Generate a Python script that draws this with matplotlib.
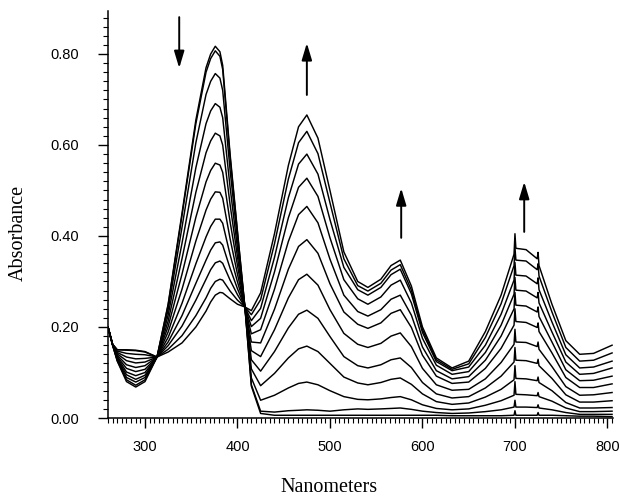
import numpy as np
import matplotlib
matplotlib.use("Agg")
import matplotlib.pyplot as plt
from matplotlib.ticker import MultipleLocator

wavelength = [260, 265, 270, 280, 290, 300, 313, 325, 340, 355, 366, 371, 376, 381, 384, 392, 400, 408,
              415, 425, 440, 455, 466, 475, 487, 500, 515, 530, 541, 555, 566, 576, 588, 600,
              615, 632, 650, 668, 685, 699, 700, 701, 712, 724, 725, 726, 740, 755, 770, 785, 805]

# absorbance of each scan (first = start of titration, last = end)
scan_01 = [.200, .162, .150, .150, .149, .146, .134, .250, .450, .655, .770, .800, .817, .805, .775, .580, .410, .244,
           .070, .010, .006, .006, .006, .006, .006, .006, .006, .006, .006, .006, .006, .006, .006, .006,
           .006, .005, .005, .005, .005, .006, .016, .006, .006, .006, .012, .006, .006, .005, .004, .004, .003]
scan_02 = [.200, .162, .150, .149, .148, .145, .134, .248, .445, .647, .760, .790, .807, .795, .766, .574, .407, .244,
           .073, .015, .013, .016, .017, .018, .017, .015, .018, .020, .019, .020, .021, .022, .019, .015,
           .012, .010, .011, .014, .018, .024, .039, .024, .024, .023, .029, .022, .018, .012, .008, .008, .008]
scan_03 = [.200, .162, .147, .142, .140, .139, .134, .238, .419, .605, .711, .740, .757, .747, .720, .545, .392, .244,
           .088, .039, .050, .066, .076, .079, .073, .060, .047, .041, .040, .042, .045, .047, .040, .029,
           .021, .018, .020, .028, .038, .050, .080, .052, .051, .049, .056, .047, .037, .022, .014, .014, .015]
scan_04 = [.200, .161, .144, .134, .130, .131, .134, .226, .384, .550, .647, .675, .691, .683, .660, .507, .373, .244,
           .108, .071, .098, .132, .152, .158, .146, .120, .090, .077, .073, .078, .085, .088, .074, .053,
           .036, .030, .033, .046, .063, .084, .115, .087, .086, .082, .090, .078, .060, .034, .022, .022, .023]
scan_05 = [.200, .161, .141, .126, .121, .123, .134, .213, .350, .496, .583, .609, .626, .620, .600, .469, .354, .244,
           .128, .103, .146, .198, .228, .237, .219, .179, .135, .115, .110, .117, .128, .132, .111, .078,
           .053, .044, .047, .066, .092, .123, .155, .127, .126, .120, .129, .115, .087, .051, .035, .035, .038]
scan_06 = [.200, .161, .138, .117, .111, .115, .134, .201, .316, .441, .519, .544, .560, .556, .540, .431, .335, .244,
           .148, .135, .194, .264, .304, .316, .292, .238, .186, .162, .155, .164, .180, .187, .157, .109,
           .073, .061, .063, .086, .122, .162, .195, .167, .166, .157, .167, .151, .113, .069, .050, .051, .056]
scan_07 = [.200, .161, .135, .109, .102, .107, .134, .189, .283, .389, .457, .481, .497, .496, .483, .394, .316, .244,
           .167, .165, .239, .327, .377, .392, .362, .295, .233, .206, .197, .209, .230, .238, .199, .138,
           .092, .076, .079, .109, .153, .204, .240, .212, .210, .199, .209, .190, .143, .089, .067, .067, .075]
scan_08 = [.200, .161, .133, .101, .093, .100, .134, .177, .252, .339, .398, .421, .437, .437, .428, .359, .299, .244,
           .185, .194, .283, .388, .447, .465, .429, .349, .270, .234, .224, .238, .261, .270, .226, .156,
           .104, .086, .091, .127, .180, .240, .276, .248, .246, .233, .244, .223, .167, .106, .082, .083, .092]
scan_09 = [.200, .160, .130, .095, .085, .094, .134, .167, .225, .296, .347, .369, .385, .387, .380, .329, .284, .244,
           .201, .219, .321, .440, .507, .527, .487, .396, .304, .262, .250, .266, .292, .303, .253, .175,
           .116, .096, .102, .144, .204, .272, .309, .281, .279, .264, .276, .253, .189, .123, .096, .098, .110]
scan_10 = [.200, .160, .128, .089, .079, .089, .134, .159, .202, .259, .305, .326, .341, .345, .340, .303, .271, .244,
           .214, .241, .353, .484, .558, .580, .536, .436, .331, .282, .270, .287, .315, .327, .273, .188,
           .124, .104, .112, .160, .228, .303, .342, .314, .312, .295, .308, .282, .211, .139, .110, .112, .125]
scan_11 = [.200, .160, .126, .084, .072, .084, .134, .151, .181, .225, .264, .285, .300, .305, .303, .279, .259, .244,
           .227, .260, .383, .525, .605, .630, .581, .473, .350, .291, .279, .296, .325, .337, .281, .194,
           .128, .107, .119, .177, .251, .335, .375, .347, .345, .326, .339, .312, .233, .155, .125, .127, .143]
scan_12 = [.200, .160, .125, .080, .068, .080, .134, .145, .165, .200, .235, .255, .270, .276, .275, .262, .250, .244,
           .236, .275, .405, .555, .640, .666, .615, .500, .365, .300, .287, .305, .335, .347, .290, .200,
           .132, .110, .125, .190, .270, .360, .405, .373, .370, .350, .364, .335, .250, .170, .140, .142, .160]

scans = [scan_01, scan_02, scan_03, scan_04, scan_05, scan_06,
         scan_07, scan_08, scan_09, scan_10, scan_11, scan_12]

# arrows showing the direction of change
arrow_nm = [337, 475, 577, 710]
arrow_from = [0.881, 0.710, 0.396, 0.409]
arrow_to = [0.769, 0.824, 0.505, 0.519]

fig = plt.figure(figsize=(6.2, 4.97), dpi=100)
ax = fig.add_axes([108/620, 1-418/497, (613-108)/620, (418-11)/497])

for s in scans:
    ax.plot(wavelength, s, color="black", lw=1.05)

for x, y0, y1 in zip(arrow_nm, arrow_from, arrow_to):
    ax.annotate("", xy=(x, y1), xytext=(x, y0),
                arrowprops=dict(arrowstyle="-|>,head_length=0.6,head_width=0.18",
                                color="black", lw=1.4, mutation_scale=17,
                                shrinkA=0, shrinkB=0))

ax.set_xlim(260, 806)
ax.set_ylim(0, 0.8945)
ax.spines["top"].set_visible(False)
ax.spines["right"].set_visible(False)
ax.spines["left"].set_linewidth(1.1)
ax.spines["bottom"].set_linewidth(1.1)

ax.xaxis.set_major_locator(MultipleLocator(100))
ax.xaxis.set_minor_locator(MultipleLocator(5))
ax.yaxis.set_major_locator(MultipleLocator(0.2))
ax.yaxis.set_minor_locator(MultipleLocator(0.02))
ax.set_xticks([300, 400, 500, 600, 700, 800])
ax.set_yticks([0, 0.2, 0.4, 0.6, 0.8])
ax.set_yticklabels(["0.00", "0.20", "0.40", "0.60", "0.80"])

ax.tick_params(axis="both", which="major", direction="out", length=7, width=1.0,
               labelsize=10.5)
ax.tick_params(axis="both", which="minor", direction="out", length=3.5, width=0.8)
ax.tick_params(axis="x", which="major", pad=9)
ax.tick_params(axis="y", which="major", pad=14)
for lab in ax.get_xticklabels() + ax.get_yticklabels():
    lab.set_fontfamily("Liberation Sans")

fig.text(329/620, 1-487/497, "Nanometers", family="Liberation Serif", fontsize=14.5,
         ha="center", va="center")
fig.text(18/620, 1-233/497, "Absorbance", family="Liberation Serif", fontsize=14.5,
         ha="center", va="center", rotation=90)

fig.savefig("out.png", dpi=100)
